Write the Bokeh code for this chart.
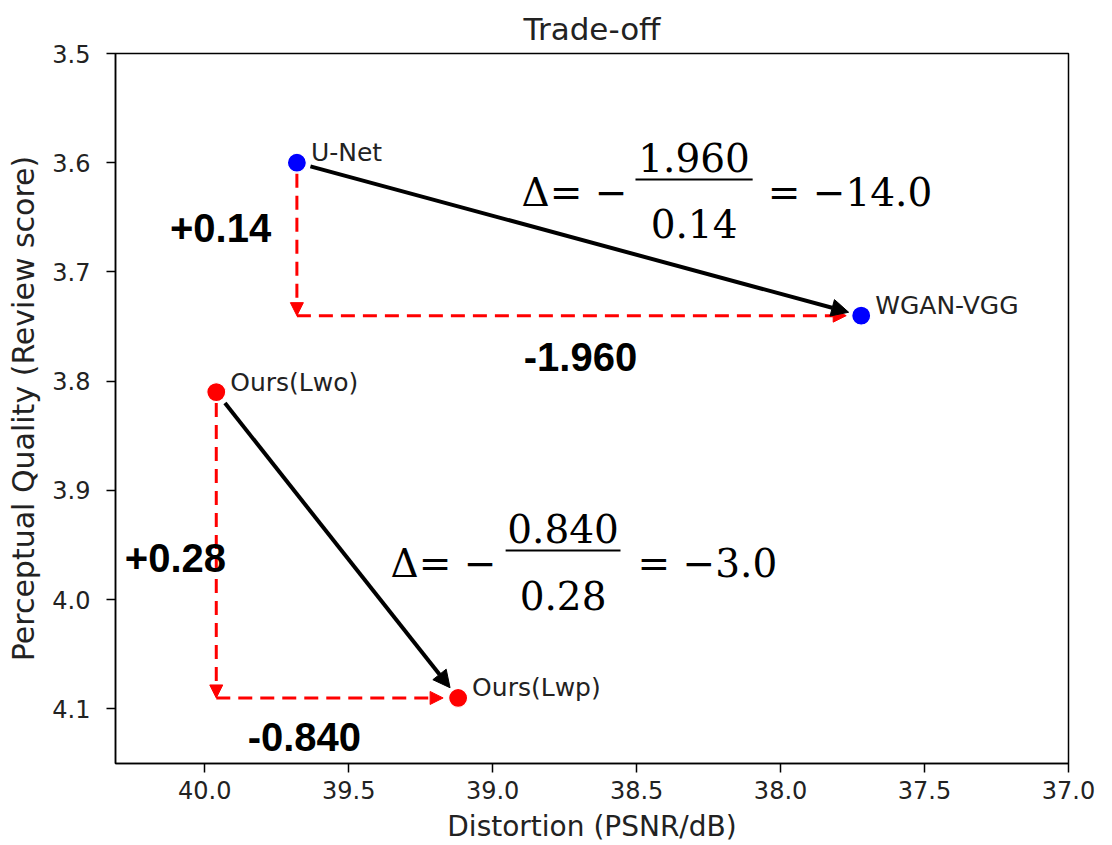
import math
from bokeh.plotting import figure
from bokeh.models import (Range1d, FixedTicker, Arrow, NormalHead, Label,
                          ColumnDataSource, PrintfTickFormatter)
from bokeh.core.properties import value
from bokeh.embed import file_html
from bokeh.resources import INLINE

# ---------------- data ----------------
methods = ["U-Net", "WGAN-VGG", "Ours(Lwo)", "Ours(Lwp)"]
psnr = [39.68, 37.72, 39.96, 39.12]
quality = [3.60, 3.74, 3.81, 4.09]
point_colors = ["#0000ff", "#0000ff", "#ff0000", "#ff0000"]
pairs = [(0, 1), (2, 3)]
quality_gain_labels = ["+0.14", "+0.28"]
psnr_drop_labels = ["-1.960", "-0.840"]
frac_numerators = ["1.960", "0.840"]
frac_denominators = ["0.14", "0.28"]
frac_results = ["= \u221214.0", "= \u22123.0"]
x_ticks = [40.0, 39.5, 39.0, 38.5, 38.0, 37.5, 37.0]
y_ticks = [3.5, 3.6, 3.7, 3.8, 3.9, 4.0, 4.1]

# ---------------- layout constants ----------------
X_LO, X_HI = 40.31, 37.0
Y_TOP, Y_BOT = 3.5, 4.15
FW, FH = 953, 710
SX = FW / abs(X_LO - X_HI)
SY = FH / abs(Y_BOT - Y_TOP)

# annotation positions (data units)
formula_pos = [
    dict(lhs_x=38.532, main_y=3.6273, bar_x0=38.504, bar_x1=38.097, bar_y=3.6154,
         num_y=3.5952, den_y=3.6556, rhs_x=38.045),
    dict(lhs_x=38.987, main_y=3.9669, bar_x0=38.955, bar_x1=38.556, bar_y=3.955,
         num_y=3.9349, den_y=3.9962, rhs_x=38.497),
]
gain_pos = [(39.945, 3.660), (40.102, 3.9623)]
drop_pos = [(38.695, 3.7774), (39.654, 4.1253)]

p = figure(frame_width=FW, frame_height=FH,
           x_range=Range1d(X_LO, X_HI), y_range=Range1d(Y_BOT, Y_TOP),
           output_backend="svg", toolbar_location=None,
           min_border_left=115, min_border_right=44,
           min_border_top=53, min_border_bottom=82,
           title="Trade-off")

p.background_fill_color = "white"
p.border_fill_color = "white"
p.grid.grid_line_color = None
p.outline_line_color = "black"
p.outline_line_width = 1.5
p.outline_line_alpha = 1.0

p.title.text_font = "DejaVu Sans"
p.title.text_font_size = "31px"
p.title.text_font_style = "normal"
p.title.align = "center"
p.title.text_color = "#222222"
p.title.standoff = 13

p.xaxis.ticker = FixedTicker(ticks=x_ticks)
p.yaxis.ticker = FixedTicker(ticks=y_ticks)
p.xaxis.formatter = PrintfTickFormatter(format="%.1f")
p.yaxis.formatter = PrintfTickFormatter(format="%.1f")
p.xaxis.axis_label = "Distortion (PSNR/dB)"
p.yaxis.axis_label = "Perceptual Quality (Review score)"
for ax in (p.xaxis[0], p.yaxis[0]):
    ax.axis_line_color = "black"
    ax.axis_line_width = 1.5
    ax.major_tick_line_color = "black"
    ax.major_tick_line_width = 1.5
    ax.major_tick_out = 9
    ax.major_tick_in = 0
    ax.minor_tick_line_color = None
    ax.major_label_text_font = "DejaVu Sans"
    ax.major_label_text_font_size = "24px"
    ax.major_label_text_color = "#222222"
    ax.axis_label_text_font = "DejaVu Sans"
    ax.axis_label_text_font_style = "normal"
    ax.axis_label_text_color = "#222222"
p.xaxis[0].major_label_standoff = 8
p.yaxis[0].major_label_standoff = 16
p.xaxis[0].axis_label_text_font_size = "28px"
p.yaxis[0].axis_label_text_font_size = "30px"
p.xaxis[0].axis_label_standoff = 8
p.yaxis[0].axis_label_standoff = 8


def shrink(x0, y0, x1, y1, s0, s1):
    L = math.hypot((x1 - x0) * SX, (y1 - y0) * SY)
    t0 = s0 / L
    t1 = 1 - s1 / L
    return (x0 + (x1 - x0) * t0, y0 + (y1 - y0) * t0,
            x0 + (x1 - x0) * t1, y0 + (y1 - y0) * t1)


for (a, b) in pairs:
    xa, ya, xb, yb = psnr[a], quality[a], psnr[b], quality[b]
    # red dashed vertical
    xs, ys, xe, ye = shrink(xa, ya, xa, yb, 11, 0)
    p.add_layout(Arrow(end=NormalHead(size=13, fill_color="#ff0000", line_color="#ff0000"),
                       x_start=xs, y_start=ys, x_end=xe, y_end=ye,
                       line_color="#ff0000", line_width=3, line_dash="14 8"))
    # red dashed horizontal
    xs, ys, xe, ye = shrink(xa, yb, xb, yb, 0, 15)
    p.add_layout(Arrow(end=NormalHead(size=13, fill_color="#ff0000", line_color="#ff0000"),
                       x_start=xs, y_start=ys, x_end=xe, y_end=ye,
                       line_color="#ff0000", line_width=3, line_dash="14 8"))
    # black solid arrow
    xs, ys, xe, ye = shrink(xa, ya, xb, yb, 14, 13)
    p.add_layout(Arrow(end=NormalHead(size=17, fill_color="black", line_color="black"),
                       x_start=xs, y_start=ys, x_end=xe, y_end=ye,
                       line_color="black", line_width=4))

src = ColumnDataSource(dict(x=psnr, y=quality, name=methods, color=point_colors))
p.scatter(x="x", y="y", source=src, size=19, fill_color="color",
          line_color="white", line_width=1.2)
p.text(x="x", y="y", text="name", source=src, x_offset=14, y_offset=-10,
       text_font=value("DejaVu Sans"), text_font_size="25px",
       text_baseline="alphabetic", text_align="left", text_color="#222222")

# bold difference labels
for i in range(2):
    gx, gy = gain_pos[i]
    p.add_layout(Label(x=gx, y=gy, text=quality_gain_labels[i], text_font="Liberation Sans",
                       text_font_style="bold", text_font_size="40px",
                       text_align="center", text_baseline="middle", text_color="black"))
    dx, dy = drop_pos[i]
    p.add_layout(Label(x=dx, y=dy, text=psnr_drop_labels[i], text_font="Liberation Sans",
                       text_font_style="bold", text_font_size="40px",
                       text_align="center", text_baseline="middle", text_color="black"))

# formulas
for i, fp in enumerate(formula_pos):
    cx = (fp["bar_x0"] + fp["bar_x1"]) / 2
    common = dict(text_font="DejaVu Serif", text_font_size="39px",
                  text_baseline="alphabetic", text_color="black")
    p.add_layout(Label(x=fp["lhs_x"], y=fp["main_y"], text="\u0394= \u2212",
                       text_align="right", **common))
    p.add_layout(Label(x=cx, y=fp["num_y"], text=frac_numerators[i],
                       text_align="center", **common))
    p.add_layout(Label(x=cx, y=fp["den_y"], text=frac_denominators[i],
                       text_align="center", **common))
    p.add_layout(Label(x=fp["rhs_x"], y=fp["main_y"], text=frac_results[i],
                       text_align="left", **common))
    p.segment(x0=[fp["bar_x0"]], y0=[fp["bar_y"]], x1=[fp["bar_x1"]], y1=[fp["bar_y"]],
              line_color="black", line_width=2)

open("out.html", "w").write(file_html(p, INLINE))
